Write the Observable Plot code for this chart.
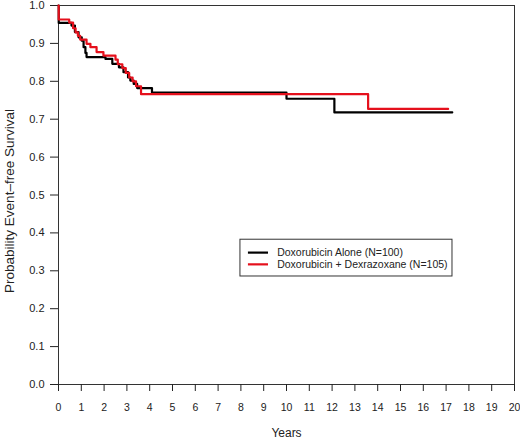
<!DOCTYPE html>
<html>
<head>
<meta charset="utf-8">
<script src="https://cdn.jsdelivr.net/npm/d3@7"></script>
<script src="https://cdn.jsdelivr.net/npm/@observablehq/plot@0.6"></script>
<style>
  body { margin: 0; background: #fff; }
</style>
</head>
<body>
<div id="chart"></div>
<script>
// Kaplan-Meier step points (years, probability)
const aloneYears = [0, 0.01, 0.57, 0.72, 0.88, 1.02, 1.1, 1.18, 1.23, 2.06, 2.36, 2.65, 2.85, 3.05, 3.15, 3.3, 3.45, 4.1, 10.0, 12.1, 17.27];
const aloneSurv  = [1.0, 0.954, 0.947, 0.93, 0.916, 0.907, 0.89, 0.875, 0.864, 0.859, 0.846, 0.837, 0.824, 0.81, 0.802, 0.793, 0.782, 0.770, 0.754, 0.718, 0.718];

const dexYears = [0, 0.01, 0.47, 0.64, 0.75, 0.85, 0.95, 1.23, 1.4, 1.67, 1.97, 2.5, 2.6, 2.8, 2.95, 3.1, 3.25, 3.4, 3.62, 13.58, 17.09];
const dexSurv  = [1.0, 0.963, 0.955, 0.94, 0.929, 0.92, 0.91, 0.899, 0.89, 0.877, 0.868, 0.857, 0.845, 0.835, 0.822, 0.81, 0.80, 0.787, 0.766, 0.727, 0.727];

const seriesNames = ["Doxorubicin Alone (N=100)", "Doxorubicin + Dexrazoxane (N=105)"];
const seriesColors = ["#000000", "#e5101c"];

const xTicks = d3.range(0, 21);
const yTicks = d3.range(0, 11).map(d => d / 10);

const alone = aloneYears.map((t, i) => ({time: t, surv: aloneSurv[i]}));
const dex = dexYears.map((t, i) => ({time: t, surv: dexSurv[i]}));

// legend box placement, in data units
const legendBox = {x1: 7.98, x2: 17.28, y1: 0.285, y2: 0.382};
const legendRows = seriesNames.map((name, i) => ({
  name, color: seriesColors[i], y: [0.348, 0.317][i]
}));

const p = Plot.plot({
  width: 520,
  height: 441,
  marginLeft: 58,
  marginRight: 6,
  marginTop: 5,
  marginBottom: 57,
  style: {fontFamily: "'Liberation Sans', Arial, sans-serif", fontSize: "11px", color: "#222", background: "#fff"},
  x: {domain: [0, 20]},
  y: {domain: [0, 1]},
  marks: [
    Plot.frame({stroke: "#333", strokeWidth: 1}),
    Plot.axisX({ticks: xTicks, tickSize: 7, tickPadding: 12, tickFormat: d => d, label: null, stroke: "#222", fontSize: 10.5}),
    Plot.axisY({ticks: yTicks, tickSize: 8, tickPadding: 6, tickFormat: d3.format(".1f"), label: null, stroke: "#222"}),
    Plot.line(alone, {x: "time", y: "surv", curve: "step-after", stroke: seriesColors[0], strokeWidth: 2.2}),
    Plot.line(dex, {x: "time", y: "surv", curve: "step-after", stroke: seriesColors[1], strokeWidth: 2.2}),
    // legend
    Plot.rect([legendBox], {x1: "x1", x2: "x2", y1: "y1", y2: "y2", fill: "#fff", stroke: "#333", strokeWidth: 1}),
    Plot.ruleY(legendRows, {y: "y", x1: 8.33, x2: 9.21, stroke: "color", strokeWidth: 2.2}),
    Plot.text(legendRows, {x: 9.59, y: "y", text: "name", textAnchor: "start", fontSize: 10.5, fill: "#222"}),
    // axis titles
    Plot.text(["Years"], {text: d => d, frameAnchor: "bottom", dy: 52, fontSize: 12, fill: "#222"}),
    Plot.text(["Probability Event\u2013free Survival"], {text: d => d, frameAnchor: "left", textAnchor: "middle", dx: -49, dy: 6, rotate: -90, fontSize: 13.5, fill: "#222"})
  ]
});

d3.select(p).attr("id", "km-chart");
document.getElementById("chart").append(p);
</script>
</body>
</html>
